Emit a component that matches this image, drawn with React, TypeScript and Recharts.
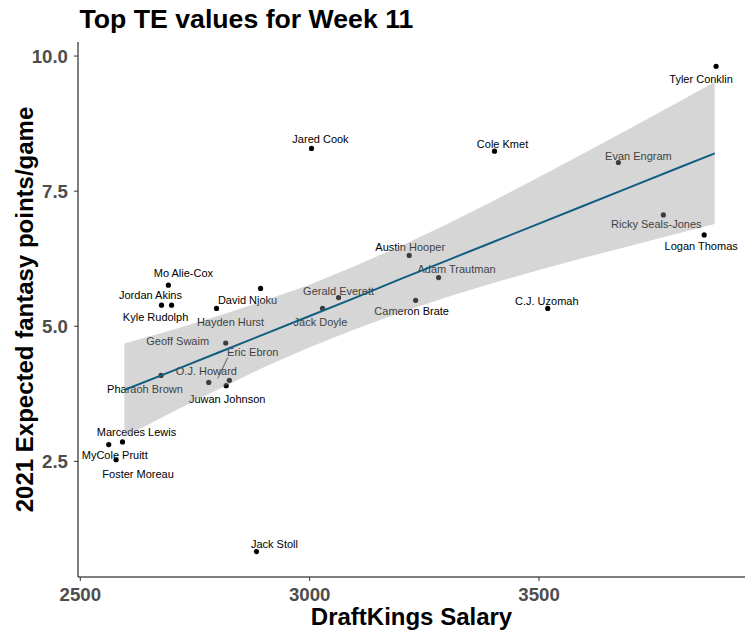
import { ComposedChart, Scatter, Area, Line, XAxis, YAxis } from 'recharts'

const FONT = '"Liberation Sans", Arial, sans-serif'

const PLAYERS = [
  'Tyler Conklin', 'Logan Thomas', 'Ricky Seals-Jones', 'Evan Engram', 'Cole Kmet', 'Jared Cook',
  'C.J. Uzomah', 'Austin Hooper', 'Adam Trautman', 'Cameron Brate', 'Gerald Everett', 'Jack Doyle',
  'David Njoku', 'Hayden Hurst', 'Mo Alie-Cox', 'Jordan Akins', 'Kyle Rudolph', 'Geoff Swaim',
  'Eric Ebron', 'O.J. Howard', 'Juwan Johnson', 'Pharaoh Brown', 'Marcedes Lewis', 'MyCole Pruitt',
  'Foster Moreau', 'Jack Stoll',
]
const SALARY = [
  3886, 3860, 3771, 3673, 3403, 3004, 3519, 3217, 3281, 3231, 3063, 3028, 2893,
  2797, 2692, 2677, 2699, 2817, 2780, 2825, 2818, 2676, 2592, 2562, 2578, 2884,
]
const XFP = [
  9.81, 6.69, 7.06, 8.03, 8.24, 8.29, 5.33, 6.31, 5.9, 5.48, 5.53, 5.33, 5.7,
  5.33, 5.76, 5.39, 5.39, 4.69, 3.96, 4.0, 3.9, 4.09, 2.86, 2.81, 2.53, 0.83,
]

// linear fit and its confidence band
const FIT_SALARY = [2596, 2700, 2800, 2900, 3000, 3100, 3200, 3300, 3400, 3500, 3600, 3700, 3800, 3883]
const FIT_VALUE = [3.82, 4.17, 4.51, 4.85, 5.19, 5.53, 5.88, 6.22, 6.56, 6.9, 7.24, 7.58, 7.92, 8.2]
const BAND_LOW = [2.95, 3.41, 3.83, 4.24, 4.61, 4.95, 5.26, 5.54, 5.8, 6.04, 6.27, 6.49, 6.71, 6.89]
const BAND_HIGH = [4.68, 4.93, 5.19, 5.47, 5.77, 6.12, 6.49, 6.89, 7.32, 7.76, 8.21, 8.67, 9.13, 9.52]

const X_TICKS = [2500, 3000, 3500]
const Y_TICKS = [2.5, 5, 7.5, 10]

// pixel offsets of each name label from its point (repel layout)
const LABEL_NUDGE: [number, number][] = [
  [-15, 13], [-3, 11], [-7, 9], [20, -7], [8, -7], [9, -9],
  [-1, -7], [1, -8], [18, -9], [-4, 11], [0, -7], [-2, 14],
  [-13, 12], [14, 14], [15, -12], [-11, -10], [-16, 12], [-48, -2],
  [44, -30], [-23, -9], [1, 13], [-16, 14], [14, -10], [6, 10],
  [22, 14], [18, -8],
]
const LEADERS: Record<string, [number, number, number, number]> = {
  'Eric Ebron': [9, -4, 19, -25],
}

const points = PLAYERS.map((name, i) => ({ idx: i, name, salary: SALARY[i], xfp: XFP[i] }))
const fitRows = FIT_SALARY.map((s, i) => ({
  salary: s,
  fit: FIT_VALUE[i],
  band: [BAND_LOW[i], BAND_HIGH[i]],
}))

function PointWithLabel(props: any) {
  const { cx, cy, payload } = props
  const [dx, dy] = LABEL_NUDGE[payload.idx]
  const leader = LEADERS[payload.name]
  return (
    <g>
      {leader && (
        <line x1={cx + leader[0]} y1={cy + leader[1]} x2={cx + leader[2]} y2={cy + leader[3]} stroke="#000" strokeWidth={0.8} />
      )}
      <circle cx={cx} cy={cy} r={2.6} fill="#000" />
      <text x={cx + dx} y={cy + dy} textAnchor="middle" dominantBaseline="central" fontSize={11} fill="#000" fontFamily={FONT}>
        {payload.name}
      </text>
    </g>
  )
}

function XTitle(props: any) {
  const vb = props.viewBox
  return (
    <text x={vb.x + vb.width / 2} y={625} textAnchor="middle" fontSize={24} fontWeight={700} fill="#000" fontFamily={FONT}>
      DraftKings Salary
    </text>
  )
}

function YTitle(props: any) {
  const vb = props.viewBox
  const cy = vb.y + vb.height / 2
  return (
    <text x={33} y={cy} transform={`rotate(-90, 33, ${cy})`} textAnchor="middle" fontSize={24} fontWeight={700} fill="#000" fontFamily={FONT}>
      2021 Expected fantasy points/game
    </text>
  )
}

const tickStyle = { fill: '#4d4d4d', fontSize: 18.67, fontWeight: 700, fontFamily: FONT }

export default function App() {
  return (
    <div style={{ position: 'relative', width: 754, height: 637, background: '#fff' }}>
      <style>{'body { margin: 0; }'}</style>
      <ComposedChart width={754} height={637} data={fitRows} margin={{ top: 42, right: 9, bottom: 0, left: 0 }}>
        <XAxis
          type="number"
          dataKey="salary"
          domain={[2495, 3949]}
          ticks={X_TICKS}
          allowDataOverflow
          height={60}
          axisLine={{ stroke: '#000', strokeWidth: 1 }}
          tickLine={{ stroke: '#333' }}
          tickSize={4}
          tickMargin={7}
          tick={tickStyle}
          label={XTitle}
        />
        <YAxis
          type="number"
          dataKey="xfp"
          domain={[0.36, 10.26]}
          ticks={Y_TICKS}
          allowDataOverflow
          width={78}
          tickFormatter={(v: number) => v.toFixed(1)}
          axisLine={{ stroke: '#000', strokeWidth: 1 }}
          tickLine={{ stroke: '#333' }}
          tickSize={4}
          tickMargin={6}
          tick={tickStyle}
          label={YTitle}
        />
        <Scatter data={points} dataKey="xfp" shape={PointWithLabel} isAnimationActive={false} zIndex={50} />
        <Area dataKey="band" type="linear" stroke="none" fill="#999999" fillOpacity={0.4} isAnimationActive={false} zIndex={100} />
        <Line dataKey="fit" type="linear" stroke="#135e80" strokeWidth={2} dot={false} activeDot={false} isAnimationActive={false} zIndex={400} />
      </ComposedChart>
      <svg width={754} height={40} style={{ position: 'absolute', left: 0, top: 0, pointerEvents: 'none' }}>
        <text x={79.5} y={28} fontSize={26.67} fontWeight={700} fill="#000" fontFamily={FONT}>
          Top TE values for Week 11
        </text>
      </svg>
    </div>
  )
}
